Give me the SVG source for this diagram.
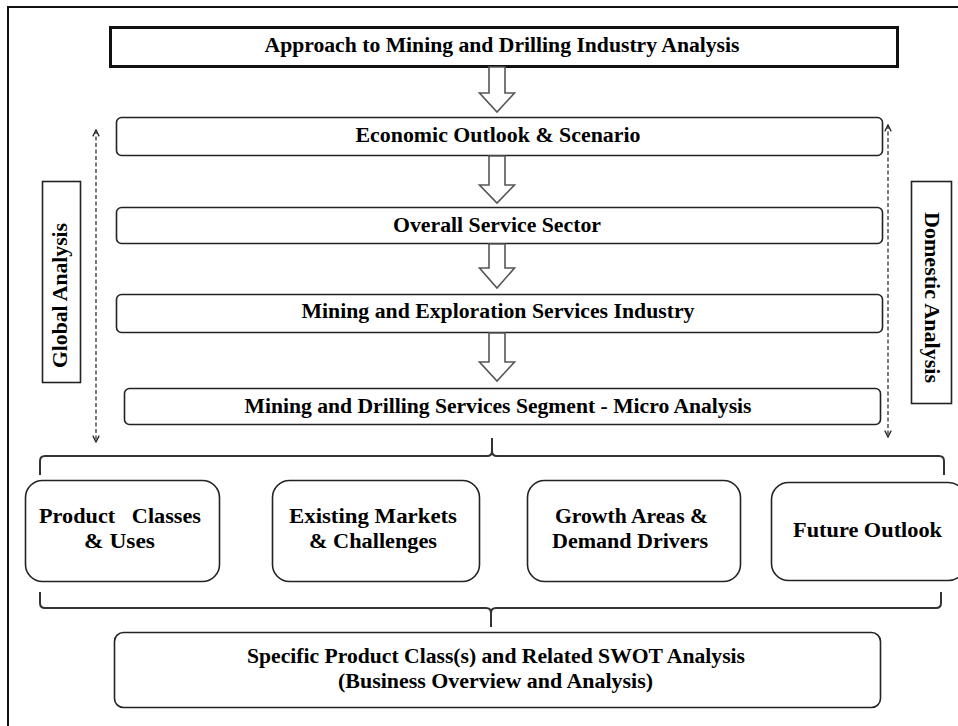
<svg xmlns="http://www.w3.org/2000/svg" width="958" height="726" viewBox="0 0 958 726">
<defs>
<style>
.t{font-family:"Liberation Serif","Times New Roman",serif;font-weight:bold;font-size:20px;fill:#000;text-anchor:middle}
.box{fill:#fff;stroke:#222;stroke-width:1.6}
.harrow{fill:#fff;stroke:#555;stroke-width:1.6;stroke-linejoin:miter}
.dash{fill:none;stroke:#333;stroke-width:1.3;stroke-dasharray:4 2.5}
.brace{fill:none;stroke:#333;stroke-width:2}
</style>
<marker id="chev" viewBox="0 0 10 10" refX="9" refY="5" markerWidth="8" markerHeight="8" orient="auto-start-reverse" markerUnits="userSpaceOnUse">
<path d="M1,1 L9,5 L1,9" fill="none" stroke="#222" stroke-width="1.6"/>
</marker>
</defs>
<rect width="958" height="726" fill="#fff"/>
<path d="M8,726 V7 H958" fill="none" stroke="#111" stroke-width="2"/>

<g id="title">
<rect x="110.5" y="27.5" width="787" height="39" fill="#fff" stroke="#111" stroke-width="3"/>
<text class="t" x="502" y="52" textLength="475" lengthAdjust="spacingAndGlyphs">Approach to Mining and Drilling Industry Analysis</text>
</g>
<g id="economic">
<rect class="box" x="116.5" y="117.5" width="766" height="38" rx="5"/>
<text class="t" x="498" y="142" textLength="285" lengthAdjust="spacingAndGlyphs">Economic Outlook &amp; Scenario</text>
</g>
<g id="overall">
<rect class="box" x="116.5" y="207.5" width="766" height="36" rx="5"/>
<text class="t" x="497" y="232" textLength="208" lengthAdjust="spacingAndGlyphs">Overall Service Sector</text>
</g>
<g id="exploration">
<rect class="box" x="116.5" y="294.5" width="766" height="38" rx="5"/>
<text class="t" x="498" y="318" textLength="393" lengthAdjust="spacingAndGlyphs">Mining and Exploration Services Industry</text>
</g>
<g id="segment">
<rect class="box" x="124.5" y="388.5" width="756" height="36" rx="5"/>
<text class="t" x="498" y="413" textLength="507" lengthAdjust="spacingAndGlyphs">Mining and Drilling Services Segment - Micro Analysis</text>
</g>
<g id="global">
<rect class="box" x="42.5" y="181.5" width="38" height="201"/>
<text class="t" transform="translate(67,295.5) rotate(-90)" x="0" y="0" textLength="145" lengthAdjust="spacingAndGlyphs">Global Analysis</text>
</g>
<g id="domestic">
<rect class="box" x="911.5" y="181.5" width="40" height="222"/>
<text class="t" transform="translate(925,297.5) rotate(90)" x="0" y="0" textLength="171" lengthAdjust="spacingAndGlyphs">Domestic Analysis</text>
</g>
<g id="product">
<rect class="box" x="25.5" y="480.5" width="194" height="101" rx="17"/>
<text class="t" x="120" y="523" textLength="162" lengthAdjust="spacingAndGlyphs" xml:space="preserve">Product   Classes</text>
<text class="t" x="119.5" y="548" textLength="71" lengthAdjust="spacingAndGlyphs">&amp; Uses</text>
</g>
<g id="markets">
<rect class="box" x="272.5" y="480.5" width="207" height="101" rx="17"/>
<text class="t" x="373" y="523" textLength="168" lengthAdjust="spacingAndGlyphs">Existing Markets</text>
<text class="t" x="373" y="548" textLength="128" lengthAdjust="spacingAndGlyphs">&amp; Challenges</text>
</g>
<g id="growth">
<rect class="box" x="527.5" y="480.5" width="213" height="101" rx="17"/>
<text class="t" x="631.5" y="523" textLength="153" lengthAdjust="spacingAndGlyphs">Growth Areas &amp;</text>
<text class="t" x="630" y="548" textLength="156" lengthAdjust="spacingAndGlyphs">Demand Drivers</text>
</g>
<g id="future">
<rect class="box" x="771.5" y="482.5" width="194" height="98" rx="17"/>
<text class="t" x="867.5" y="537" textLength="149" lengthAdjust="spacingAndGlyphs">Future Outlook</text>
</g>
<g id="swot">
<rect class="box" x="114.5" y="632.5" width="766" height="75" rx="9"/>
<text class="t" x="496" y="663" textLength="498" lengthAdjust="spacingAndGlyphs">Specific Product Class(s) and Related SWOT Analysis</text>
<text class="t" x="495.5" y="688" textLength="315" lengthAdjust="spacingAndGlyphs">(Business Overview and Analysis)</text>
</g>

<g id="connectors">
<polygon class="harrow" points="489,67 505,67 505,93 514.5,93 497,112 479.5,93 489,93"/>
<polygon class="harrow" points="489,156 505,156 505,185 514.5,185 497,203 479.5,185 489,185"/>
<polygon class="harrow" points="489,244 505,244 505,268 514.5,268 497,288 479.5,268 489,268"/>
<polygon class="harrow" points="489,333 505,333 505,362 514.5,362 497,381 479.5,362 489,362"/>
<line class="dash" x1="96" y1="130" x2="96" y2="442" marker-start="url(#chev)" marker-end="url(#chev)"/>
<line class="dash" x1="888" y1="125" x2="888" y2="437" marker-start="url(#chev)" marker-end="url(#chev)"/>
<path class="brace" d="M40,475 V461 Q40,456 45,456 H487 Q492,456 492,451 V438 M492,451 Q492,456 497,456 H939 Q944,456 944,461 V475"/>
<path class="brace" d="M40,592 V603 Q40,608 45,608 H486 Q491,608 491,613 V627 M491,613 Q491,608 496,608 H936 Q941,608 941,603 V592"/>
</g>
</svg>
